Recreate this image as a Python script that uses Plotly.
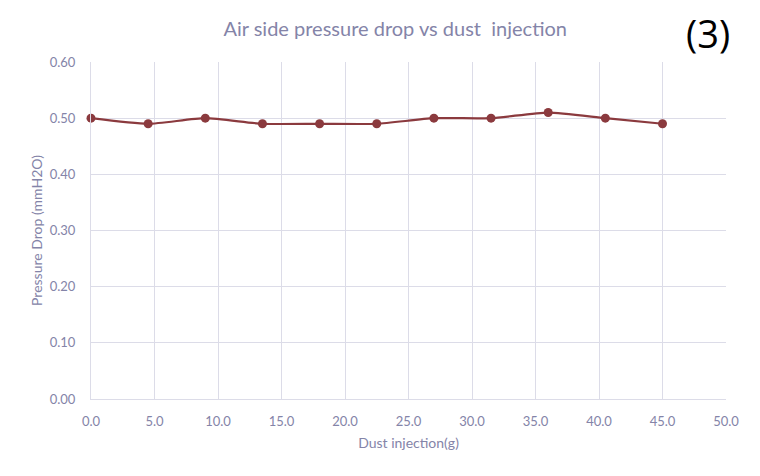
import plotly.graph_objects as go

dust_g = [0, 4.5, 9, 13.5, 18, 22.5, 27, 31.5, 36, 40.5, 45]
pressure_drop = [0.50, 0.49, 0.50, 0.49, 0.49, 0.49, 0.50, 0.50, 0.51, 0.50, 0.49]
x_ticks = [0, 5, 10, 15, 20, 25, 30, 35, 40, 45, 50]
y_ticks = [0, 0.1, 0.2, 0.3, 0.4, 0.5, 0.6]

txt = "#8484A8"
grid = "#DCDCE8"
font = "Lato"

L, R, T, B = 91, 34, 62, 77
plot_w = 760 - L - R
plot_h = 476 - T - B

fig = go.Figure()
fig.add_trace(go.Scatter(
    x=dust_g, y=pressure_drop, mode="lines+markers",
    line=dict(color="#8B3A3E", width=2.2, shape="spline", smoothing=0.6),
    marker=dict(color="#8B3A3E", size=9),
    showlegend=False, cliponaxis=False,
))

fig.update_layout(
    width=760, height=476,
    margin=dict(l=L, r=R, t=T, b=B),
    paper_bgcolor="white", plot_bgcolor="white",
    font=dict(family=font, color=txt, size=13),
    title=dict(text="Air side pressure drop vs dust  injection", x=0.52, xanchor="center",
               y=1 - 29/476, yanchor="middle", font=dict(size=20, color=txt, family=font)),
    xaxis=dict(range=[0, 50], tickvals=x_ticks, ticktext=[f"{v:.1f}" for v in x_ticks],
               showgrid=True, gridcolor=grid, gridwidth=1, zeroline=False,
               showline=True, linecolor=grid, linewidth=1,
               ticks="", ticklabelstandoff=10, tickfont=dict(size=13, color=txt),
               title=dict(text="Dust injection(g)", font=dict(size=14, color=txt), standoff=10)),
    yaxis=dict(range=[0, 0.6], tickvals=y_ticks, ticktext=[f"{v:.2f}" for v in y_ticks],
               showgrid=True, gridcolor=grid, gridwidth=1, zeroline=False,
               showline=True, linecolor=grid, linewidth=1,
               ticks="", ticklabelstandoff=12, tickfont=dict(size=13, color=txt),
               title=dict(text="Pressure Drop (mmH2O)", font=dict(size=14, color=txt), standoff=3)),
    annotations=[dict(text="(3)", x=(708 - L) / plot_w, y=(476 - B - 33) / plot_h,
                      xref="paper", yref="paper",
                      xanchor="center", yanchor="middle", showarrow=False,
                      font=dict(size=38, color="black", family="Open Sans"))],
)

fig.write_html("out.html")
